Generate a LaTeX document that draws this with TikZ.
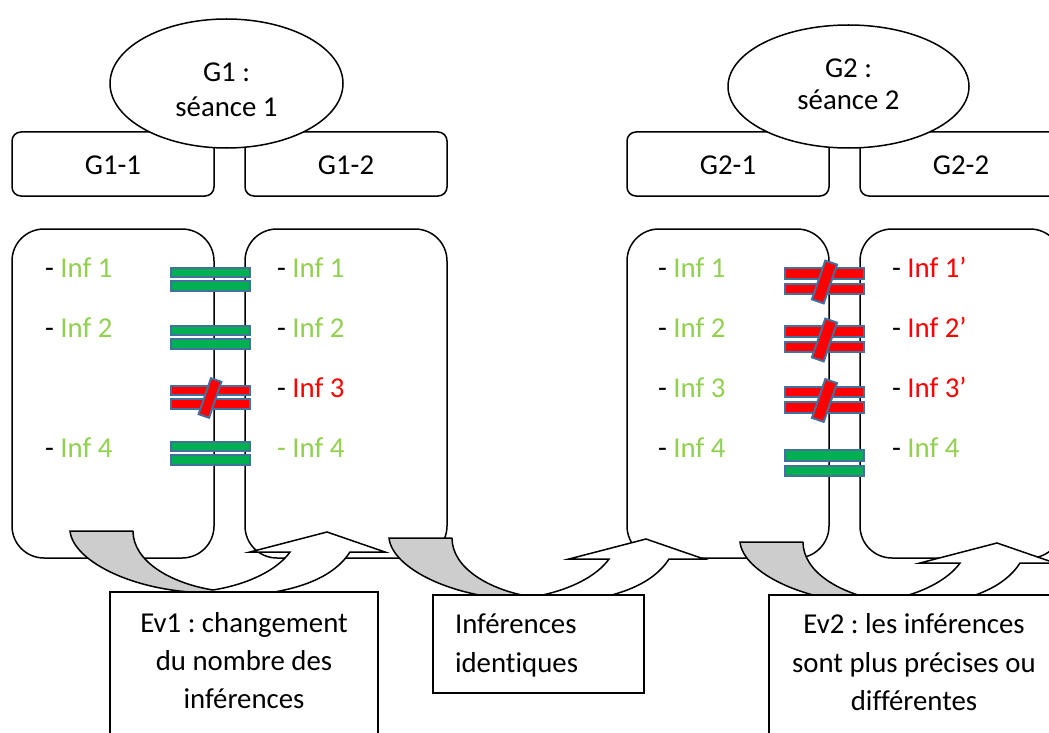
\documentclass[tikz,border=0pt]{standalone}
\usepackage{fontspec}
\setmainfont{Carlito}[Ligatures=NoCommon]
\usetikzlibrary{shapes.geometric}
\definecolor{infgreen}{HTML}{92D050}
\definecolor{bargreen}{HTML}{00B050}
\definecolor{barblue}{HTML}{41719C}
\definecolor{infred}{HTML}{FF0000}
\definecolor{arrowgrey}{HTML}{CDCDCD}
% cx cy fill inner outer
\newcommand{\EqBars}[5]{%
  \path[barshape, fill=#3] (#1-39.5,#2-#5+1) rectangle (#1+39.5,#2-#4-1);
  \path[barshape, fill=#3] (#1-39.5,#2+#4+1) rectangle (#1+39.5,#2+#5-1);
}
% cx cy halfwidth halflength
\newcommand{\NeqSlash}[4]{%
  \path[barshape, fill=infred, rotate around={-19:(#1,#2)}] (#1-#3,#2-#4) rectangle (#1+#3,#2+#4);
}
\newcommand{\CurvArrow}[2]{%
  \begin{scope}[shift={(#1,#2)}]
    \fill[arrowgrey] (0,0) -- (63,0) .. controls (63,30) and (100,52) .. (143,59) -- (143,62) .. controls (64,62) and (3,30) .. (0,0) -- cycle;
    \draw[arrowline] (63,0) -- (0,0) .. controls (3,30) and (64,62) .. (143,62);
    \draw[arrowline] (63,0) .. controls (63,30) and (100,52) .. (143,59);
    \fill[white] (143,59) .. controls (180,53) and (208,38) .. (220,21) -- (180,21) -- (257,1) -- (315,21) -- (280,21) .. controls (265,45) and (230,60) .. (180,64) -- (143,64) -- cycle;
    \draw[arrowline] (143,59) .. controls (180,53) and (208,38) .. (220,21) -- (180,21) -- (257,1) -- (315,21) -- (280,21) .. controls (265,45) and (230,60) .. (180,64);
  \end{scope}
}
\begin{document}
\frenchspacing
\begin{tikzpicture}[x=1pt,y=-1pt,
  every node/.style={inner sep=0pt, outer sep=0pt},
  txt/.style={font=\fontsize{28.8}{34}\selectfont, anchor=base},
  inftxt/.style={font=\fontsize{28.8}{34}\selectfont, anchor=base west},
  smallbox/.style={draw, line width=1.5pt, fill=white, rounded corners=9pt, minimum width=202pt, minimum height=64pt},
  bigbox/.style={draw, line width=1.5pt, fill=white, rounded corners=32pt, minimum width=202pt, minimum height=329pt},
  sessell/.style={ellipse, draw, line width=1.5pt, fill=white},
  evbox/.style={draw, line width=1.5pt, fill=white},
  arrowline/.style={draw=black, line width=1.5pt, line join=miter},
  barshape/.style={draw=barblue, line width=2pt},
]
\useasboundingbox (0,0) rectangle (1049,733);
\clip (0,0) rectangle (1049,733);
\fill[white] (0,0) rectangle (1049,733);

% small group boxes
\node[smallbox] (s11) at (113,164) {};
\node[smallbox] (s12) at (346,164) {};
\node[smallbox] (s21) at (728,164) {};
\node[smallbox] (s22) at (961,164) {};
% session ellipses
\node[sessell, minimum width=233pt, minimum height=129pt] (g1) at (226.5,83.5) {};
\node[sessell, minimum width=241pt, minimum height=123pt] (g2) at (848.5,86.5) {};
\node[txt] (g1a) at (226.5,82) {G1 :};
\node[txt] (g1b) at (226.5,117) {séance 1};
\node[txt] (g2a) at (848.5,78) {G2 :};
\node[txt] (g2b) at (848.5,110) {séance 2};
\node[txt] (l11) at (113,175) {G1-1};
\node[txt] (l12) at (346,175) {G1-2};
\node[txt] (l21) at (728,175) {G2-1};
\node[txt] (l22) at (961,175) {G2-2};

% big boxes
\node[bigbox] (b11) at (113,393.5) {};
\node[bigbox] (b12) at (346,393.5) {};
\node[bigbox] (b21) at (728,393.5) {};
\node[bigbox] (b22) at (961,393.5) {};

% curved arrows
\CurvArrow{70}{531}
\CurvArrow{389}{538}
\CurvArrow{740}{542}

% equality / inequality signs G1
\EqBars{210.5}{279}{bargreen}{1.3}{12.5}
\EqBars{210.5}{337}{bargreen}{1.3}{12.5}
\EqBars{210.5}{397}{infred}{1.3}{12.5}
\NeqSlash{210}{398}{5.5}{19}
\EqBars{210.5}{453}{bargreen}{1.3}{12.5}
% G2
\EqBars{824.5}{281}{infred}{1.5}{14}
\NeqSlash{824.5}{282}{6.2}{20.5}
\EqBars{824.5}{339}{infred}{1.5}{14}
\NeqSlash{824.5}{340}{6.2}{20.5}
\EqBars{824.5}{399.5}{infred}{1.5}{14}
\NeqSlash{824.5}{400.5}{6.2}{20.5}
\EqBars{824.5}{463}{bargreen}{1.5}{14}

% inference texts
\node[inftxt] (a1) at (45,277) {- {\color{infgreen}Inf 1}};
\node[inftxt] (a2) at (45,337) {- {\color{infgreen}Inf 2}};
\node[inftxt] (a4) at (45,457) {- {\color{infgreen}Inf 4}};
\node[inftxt] (b1) at (277,277) {- {\color{infgreen}Inf 1}};
\node[inftxt] (b2) at (277,337) {- {\color{infgreen}Inf 2}};
\node[inftxt] (b3) at (277,397) {- {\color{infred}Inf 3}};
\node[inftxt, text=infgreen] (b4) at (277,457) {- Inf 4};
\node[inftxt] (c1) at (658,277) {- {\color{infgreen}Inf 1}};
\node[inftxt] (c2) at (658,337) {- {\color{infgreen}Inf 2}};
\node[inftxt] (c3) at (658,397) {- {\color{infgreen}Inf 3}};
\node[inftxt] (c4) at (658,457) {- {\color{infgreen}Inf 4}};
\node[inftxt] (d1) at (892,277) {- {\color{infred}Inf 1’}};
\node[inftxt] (d2) at (892,337) {- {\color{infred}Inf 2’}};
\node[inftxt] (d3) at (892,397) {- {\color{infred}Inf 3’}};
\node[inftxt] (d4) at (892,457) {- {\color{infgreen}Inf 4}};

% evaluation boxes
\node[evbox, minimum width=268pt, minimum height=188pt] (ev1) at (244,686) {};
\node[evbox, minimum width=211pt, minimum height=98pt] (id) at (538.5,644) {};
\node[evbox, minimum width=290pt, minimum height=185pt] (ev2) at (914,687.5) {};
\node[txt] (ev1a) at (244,632) {Ev1 : changement};
\node[txt] (ev1b) at (244,670) {du nombre des};
\node[txt] (ev1c) at (244,708) {inférences};
\node[inftxt] (ida) at (455,633) {Inférences};
\node[inftxt] (idb) at (455,672) {identiques};
\node[txt] (ev2a) at (914,633) {Ev2 : les inférences};
\node[txt] (ev2b) at (914,672) {sont plus précises ou};
\node[txt] (ev2c) at (914,710) {différentes};
\end{tikzpicture}
\end{document}
